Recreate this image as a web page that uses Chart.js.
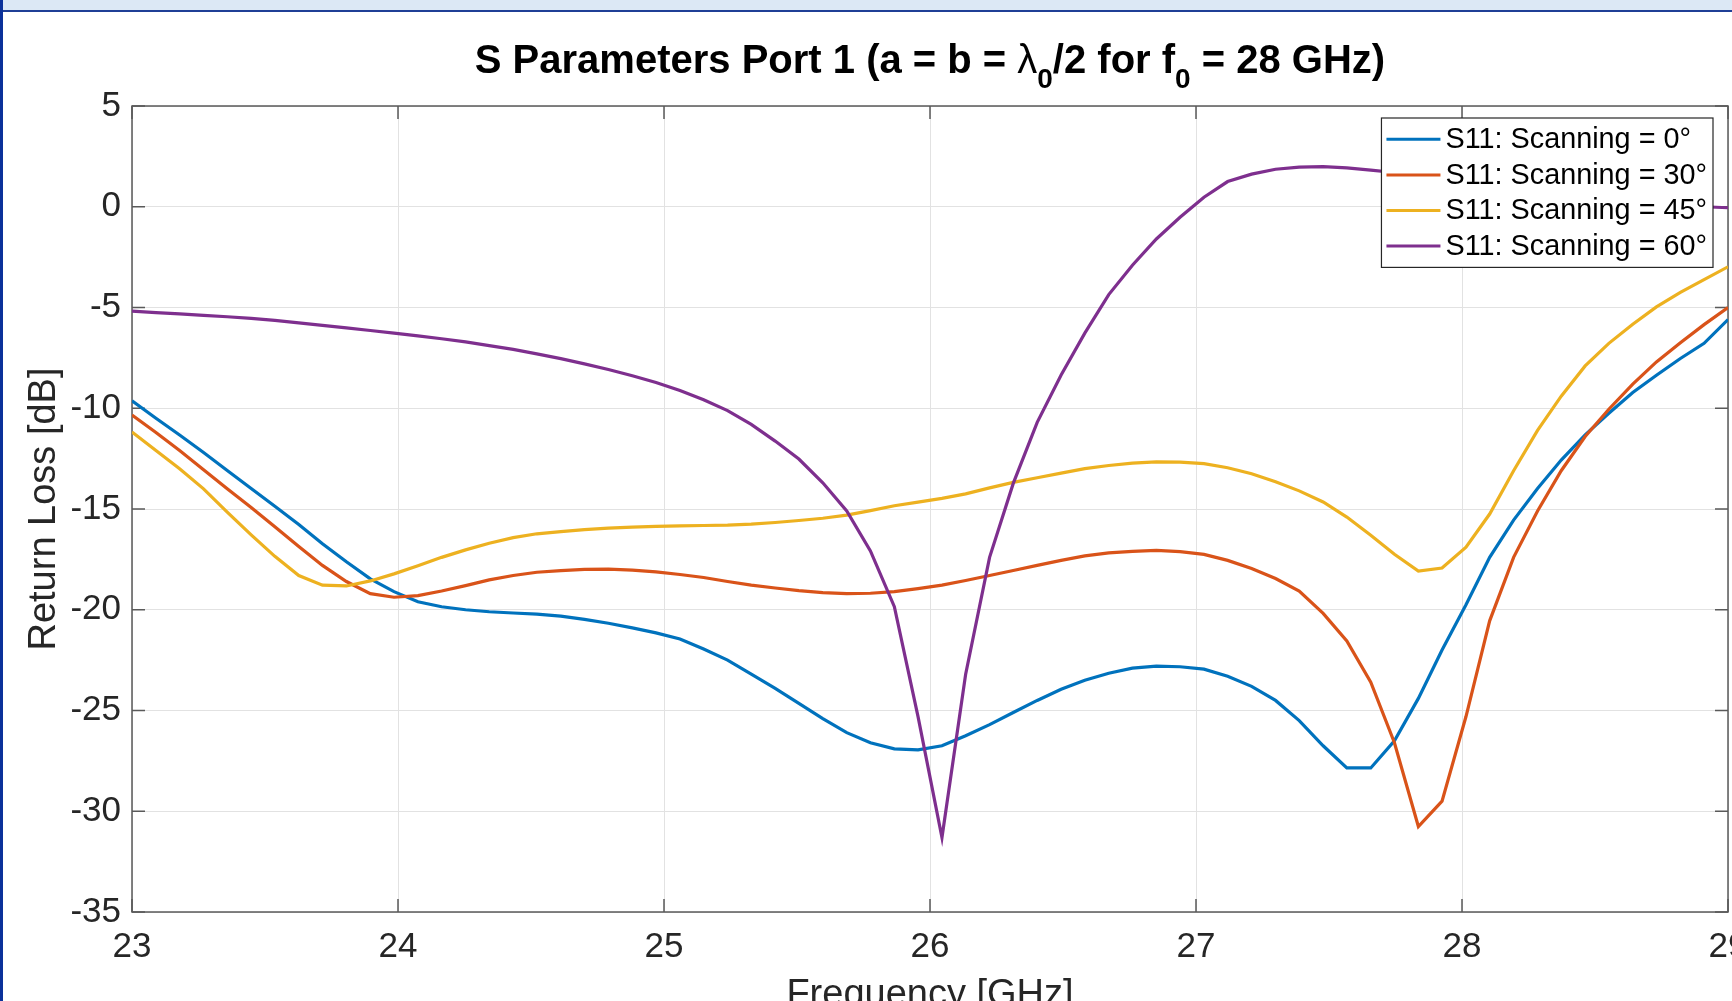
<!DOCTYPE html>
<html>
<head>
<meta charset="utf-8">
<title>S Parameters Port 1</title>
<script src="https://cdn.jsdelivr.net/npm/chart.js@4.4.1/dist/chart.umd.min.js"></script>
<style>
  html, body { margin: 0; padding: 0; background: #fff; overflow: hidden; }
  #wrap { position: relative; width: 1732px; height: 1001px; }
  #s11Chart { position: absolute; left: 0; top: 0; }
  #topBand { position: absolute; left: 0; top: 0; width: 1732px; height: 10px; background: #dce8f5; border-bottom: 2px solid #1f3f96; }
  #leftBar { position: absolute; left: 0; top: 0; width: 3px; height: 1001px; background: #0b319a; }
</style>
</head>
<body>
<div id="wrap">
  <canvas id="s11Chart" width="1732" height="1001"></canvas>
  <div id="topBand"></div>
  <div id="leftBar"></div>
</div>
<script>
// frequency sweep (GHz), 68 points from 23 to 29
const freqGHz = [23.000, 23.090, 23.179, 23.269, 23.358, 23.448, 23.537, 23.627, 23.716, 23.806,
                 23.896, 23.985, 24.075, 24.164, 24.254, 24.343, 24.433, 24.522, 24.612, 24.701,
                 24.791, 24.881, 24.970, 25.060, 25.149, 25.239, 25.328, 25.418, 25.507, 25.597,
                 25.687, 25.776, 25.866, 25.955, 26.045, 26.134, 26.224, 26.313, 26.403, 26.493,
                 26.582, 26.672, 26.761, 26.851, 26.940, 27.030, 27.119, 27.209, 27.299, 27.388,
                 27.478, 27.567, 27.657, 27.746, 27.836, 27.925, 28.015, 28.104, 28.194, 28.284,
                 28.373, 28.463, 28.552, 28.642, 28.731, 28.821, 28.910, 29.000];

// S11 in dB for each scan angle
const s11Scan0 = [-9.63, -10.50, -11.33, -12.20, -13.09, -13.98, -14.86, -15.77, -16.72, -17.62,
                  -18.47, -19.10, -19.60, -19.85, -20.00, -20.10, -20.16, -20.22, -20.32, -20.48,
                  -20.67, -20.90, -21.15, -21.45, -21.95, -22.50, -23.20, -23.90, -24.65, -25.40,
                  -26.10, -26.60, -26.90, -26.95, -26.75, -26.25, -25.70, -25.10, -24.50, -23.95,
                  -23.50, -23.15, -22.90, -22.80, -22.83, -22.95, -23.30, -23.80, -24.50, -25.50,
                  -26.75, -27.85, -27.85, -26.50, -24.40, -22.00, -19.75, -17.40, -15.55, -13.98,
                  -12.57, -11.32, -10.25, -9.22, -8.36, -7.53, -6.78, -5.60];

const s11Scan30 = [-10.34, -11.20, -12.10, -13.05, -14.00, -14.92, -15.88, -16.86, -17.80, -18.60,
                   -19.20, -19.38, -19.30, -19.07, -18.80, -18.52, -18.30, -18.14, -18.06, -18.00,
                   -17.98, -18.03, -18.12, -18.25, -18.40, -18.60, -18.78, -18.92, -19.05, -19.15,
                   -19.20, -19.18, -19.10, -18.95, -18.78, -18.55, -18.30, -18.05, -17.80, -17.55,
                   -17.33, -17.18, -17.10, -17.05, -17.12, -17.25, -17.55, -17.95, -18.45, -19.07,
                   -20.18, -21.55, -23.60, -26.60, -30.76, -29.50, -25.30, -20.55, -17.40, -15.10,
                   -13.10, -11.40, -10.05, -8.80, -7.70, -6.75, -5.85, -5.00];

const s11Scan45 = [-11.18, -12.10, -13.00, -14.00, -15.15, -16.28, -17.35, -18.30, -18.78, -18.82,
                   -18.57, -18.22, -17.82, -17.40, -17.03, -16.70, -16.42, -16.23, -16.12, -16.02,
                   -15.95, -15.90, -15.86, -15.84, -15.82, -15.80, -15.75, -15.67, -15.57, -15.46,
                   -15.30, -15.08, -14.84, -14.66, -14.47, -14.25, -13.95, -13.68, -13.45, -13.22,
                   -13.00, -12.84, -12.72, -12.66, -12.67, -12.75, -12.95, -13.25, -13.65, -14.10,
                   -14.65, -15.40, -16.30, -17.25, -18.08, -17.93, -16.90, -15.25, -13.10, -11.10,
                   -9.40, -7.90, -6.78, -5.83, -4.97, -4.25, -3.62, -2.98];

const s11Scan60 = [-5.18, -5.25, -5.32, -5.39, -5.46, -5.54, -5.64, -5.76, -5.89, -6.01,
                   -6.14, -6.27, -6.41, -6.55, -6.71, -6.89, -7.08, -7.30, -7.54, -7.80,
                   -8.08, -8.39, -8.72, -9.12, -9.58, -10.12, -10.80, -11.63, -12.52, -13.70,
                   -15.10, -17.08, -19.85, -25.30, -31.30, -23.20, -17.40, -13.73, -10.70, -8.35,
                   -6.27, -4.36, -2.90, -1.60, -0.52, 0.47, 1.25, 1.62, 1.86, 1.97,
                   1.99, 1.93, 1.82, 1.70, 1.55, 1.40, 1.25, 1.10, 0.95, 0.80,
                   0.65, 0.52, 0.40, 0.30, 0.20, 0.10, 0.00, -0.05];

const seriesLabels = ['S11: Scanning = 0°', 'S11: Scanning = 30°', 'S11: Scanning = 45°', 'S11: Scanning = 60°'];
const seriesColors = ['#0072BD', '#D95319', '#EDB120', '#7E2F8E'];
const seriesValues = [s11Scan0, s11Scan30, s11Scan45, s11Scan60];

const FONT = '"Liberation Sans", Arial, Helvetica, sans-serif';
const TEXT_COLOR = '#262626';
const AXIS_COLOR = '#5a5a5a';

// title with subscripts (lambda_0, f_0), drawn above the axes like MATLAB does
const titlePlugin = {
    id: 'texTitle',
    afterDraw(chart) {
        const {ctx, chartArea} = chart;
        const runs = [
            {text: 'S Parameters Port 1 (a = b = ', font: `bold 40px ${FONT}`, dy: 0},
            {text: 'λ', font: `40px ${FONT}`, dy: 0},
            {text: '0', font: `bold 28px ${FONT}`, dy: 15},
            {text: '/2 for f', font: `bold 40px ${FONT}`, dy: 0},
            {text: '0', font: `bold 28px ${FONT}`, dy: 15},
            {text: ' = 28 GHz)', font: `bold 40px ${FONT}`, dy: 0}
        ];
        ctx.save();
        ctx.fillStyle = '#000';
        ctx.textBaseline = 'alphabetic';
        let total = 0;
        runs.forEach(r => { ctx.font = r.font; r.w = ctx.measureText(r.text).width; total += r.w; });
        let x = (chartArea.left + chartArea.right) / 2 - total / 2;
        const baseline = 73;
        runs.forEach(r => {
            ctx.font = r.font;
            ctx.fillText(r.text, x, baseline + r.dy);
            x += r.w;
        });
        ctx.restore();
    }
};

// axes box with inward tick marks
const axesBoxPlugin = {
    id: 'axesBox',
    beforeDatasetsDraw(chart) {
        const {ctx, chartArea: a, scales: {x, y}} = chart;
        const tickLen = 13;
        ctx.save();
        ctx.strokeStyle = AXIS_COLOR;
        ctx.lineWidth = 1.5;
        ctx.strokeRect(a.left, a.top, a.right - a.left, a.bottom - a.top);
        ctx.beginPath();
        x.ticks.forEach(t => {
            const px = x.getPixelForValue(t.value);
            ctx.moveTo(px, a.bottom); ctx.lineTo(px, a.bottom - tickLen);
            ctx.moveTo(px, a.top); ctx.lineTo(px, a.top + tickLen);
        });
        y.ticks.forEach(t => {
            const py = y.getPixelForValue(t.value);
            ctx.moveTo(a.left, py); ctx.lineTo(a.left + tickLen, py);
            ctx.moveTo(a.right, py); ctx.lineTo(a.right - tickLen, py);
        });
        ctx.stroke();
        ctx.restore();
    }
};

// boxed legend in the upper right corner of the axes
const legendPlugin = {
    id: 'insideLegend',
    afterDatasetsDraw(chart) {
        const {ctx, chartArea: a} = chart;
        const sets = chart.data.datasets;
        ctx.save();
        ctx.font = `28.8px ${FONT}`;
        const textW = Math.max(...sets.map(d => ctx.measureText(d.label).width));
        const lineLen = 54, rowH = 35.6, edge = 21.3;
        const width = 5 + lineLen + 5 + textW + 6;
        const height = edge * 2 + rowH * (sets.length - 1);
        const right = a.right - 15, top = a.top + 12;
        const left = right - width;
        ctx.fillStyle = '#fff';
        ctx.fillRect(left, top, width, height);
        ctx.strokeStyle = '#262626';
        ctx.lineWidth = 1.2;
        ctx.strokeRect(left, top, width, height);
        ctx.textBaseline = 'middle';
        sets.forEach((d, i) => {
            const cy = top + edge + i * rowH;
            ctx.strokeStyle = d.borderColor;
            ctx.lineWidth = 3;
            ctx.beginPath();
            ctx.moveTo(left + 5, cy);
            ctx.lineTo(left + 5 + lineLen, cy);
            ctx.stroke();
            ctx.fillStyle = '#000';
            ctx.fillText(d.label, left + 5 + lineLen + 5, cy + 1);
        });
        ctx.restore();
    }
};

const datasets = seriesValues.map((vals, i) => ({
    label: seriesLabels[i],
    data: freqGHz.map((f, j) => ({x: f, y: vals[j]})),
    borderColor: seriesColors[i],
    backgroundColor: seriesColors[i],
    borderWidth: 3.2,
    pointRadius: 0,
    tension: 0,
    fill: false,
    order: seriesValues.length - i  // later series drawn on top, as in MATLAB
}));

const ctx = document.getElementById('s11Chart').getContext('2d');
new Chart(ctx, {
    type: 'line',
    data: {datasets: datasets},
    options: {
        responsive: false,
        animation: false,
        events: [],
        layout: {padding: {left: 0, top: 106, right: 4, bottom: 0}},
        plugins: {
            legend: {display: false},
            tooltip: {enabled: false},
            title: {display: false}
        },
        scales: {
            x: {
                type: 'linear',
                min: 23,
                max: 29,
                ticks: {
                    stepSize: 1,
                    autoSkip: false,
                    maxRotation: 0,
                    padding: 14,
                    color: TEXT_COLOR,
                    font: {family: FONT, size: 35}
                },
                grid: {color: '#e2e2e2', lineWidth: 1, drawTicks: false},
                border: {display: false},
                title: {
                    display: true,
                    text: 'Frequency [GHz]',
                    color: TEXT_COLOR,
                    font: {family: FONT, size: 38},
                    padding: {top: 0, bottom: -17}
                },
                afterFit: s => { s.height = 89; s.paddingLeft = 0; s.paddingRight = 0; }
            },
            y: {
                type: 'linear',
                min: -35,
                max: 5,
                ticks: {
                    stepSize: 5,
                    padding: 11,
                    color: TEXT_COLOR,
                    font: {family: FONT, size: 35}
                },
                grid: {color: '#e2e2e2', lineWidth: 1, drawTicks: false},
                border: {display: false},
                title: {
                    display: true,
                    text: 'Return Loss [dB]',
                    color: TEXT_COLOR,
                    font: {family: FONT, size: 38},
                    padding: {top: 22, bottom: 0}
                },
                afterFit: s => { s.width = 132; s.paddingTop = 0; s.paddingBottom = 0; }
            }
        }
    },
    plugins: [axesBoxPlugin, legendPlugin, titlePlugin]
});
</script>
</body>
</html>
